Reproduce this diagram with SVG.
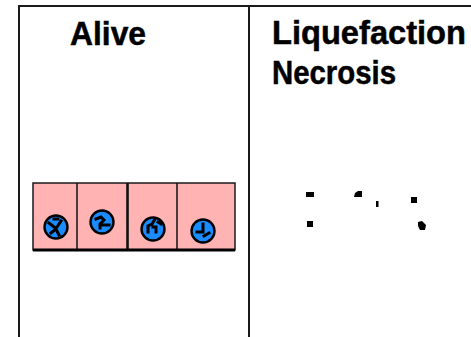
<svg xmlns="http://www.w3.org/2000/svg" width="471" height="337" viewBox="0 0 471 337">
  <style>
    .frame { stroke: #1a1a1a; stroke-width: 2; fill: none; }
    .title { font-family: "Liberation Sans", Arial, sans-serif; font-weight: bold; font-size: 33px; fill: #000; stroke: #000; stroke-width: 0.5; }
    .cell { fill: #ffb3b3; stroke: #1a1a1a; stroke-width: 1.5; }
    .wall { stroke: #111; stroke-width: 1.5; }
    .nucleus { fill: #1a8cff; stroke: #000; stroke-width: 2.4; }
    .chromatin { fill: none; stroke: #000; stroke-width: 3; stroke-linecap: square; stroke-linejoin: miter; }
    .debris { fill: #000; }
  </style>

  <!-- table frame -->
  <g id="frame">
    <line class="frame" x1="18" y1="6" x2="471" y2="6"/>
    <line class="frame" x1="19" y1="6" x2="19" y2="337"/>
    <line class="frame" x1="249" y1="6" x2="249" y2="337"/>
  </g>

  <!-- column headings -->
  <g id="label-alive">
    <text class="title" x="70" y="45" textLength="76" lengthAdjust="spacingAndGlyphs">Alive</text>
  </g>
  <g id="label-liquefaction">
    <text class="title" x="272" y="44" textLength="194" lengthAdjust="spacingAndGlyphs">Liquefaction</text>
    <text class="title" x="272" y="84" textLength="124" lengthAdjust="spacingAndGlyphs">Necrosis</text>
  </g>

  <!-- row of living cells -->
  <g id="alive-cells">
    <rect class="cell" x="33" y="183" width="202" height="67"/>
    <line class="wall" x1="77" y1="183" x2="77" y2="250"/>
    <line class="wall" x1="127.5" y1="183" x2="127.5" y2="250" style="stroke-width:2.6"/>
    <line class="wall" x1="177" y1="183" x2="177" y2="250"/>
    <line x1="33" y1="250" x2="235" y2="250" stroke="#000" stroke-width="3.2"/>
  </g>

  <g id="nucleus-1">
    <circle class="nucleus" cx="56" cy="227" r="11.5"/>
    <path class="chromatin" d="M49 223 L54 227 M57 227 L61 221 M51 233 L56 229 L59 235 M54 219 L58 219"/>
  </g>
  <g id="nucleus-2">
    <circle class="nucleus" cx="102" cy="222" r="11.5"/>
    <path class="chromatin" d="M96 219 L101 217 L104 220 L100 224 L100 228 M103 225 L109 225"/>
  </g>
  <g id="nucleus-3">
    <circle class="nucleus" cx="153" cy="229" r="11.5"/>
    <path class="chromatin" d="M155 219 L152 224 L148 226 L148 232 M153 227 L156 227 L156 232 M158 222 L161 224"/>
  </g>
  <g id="nucleus-4">
    <circle class="nucleus" cx="203" cy="231" r="11.5"/>
    <path class="chromatin" d="M203 224 L203 232 L197 232 M204 236 L209 233"/>
  </g>

  <!-- nuclear debris after liquefaction -->
  <g id="debris">
    <rect class="debris" x="306" y="192" width="8" height="5"/>
    <path class="debris" d="M355 193 L358 191 L362 191 L362 197 L354 197 Z"/>
    <rect class="debris" x="376" y="201" width="2.5" height="6"/>
    <rect class="debris" x="411" y="197" width="6" height="6"/>
    <rect class="debris" x="307" y="221" width="6" height="6"/>
    <path class="debris" d="M418 222 L422 221 L426 225 L425 230 L420 230 L418 226 Z"/>
  </g>
</svg>
